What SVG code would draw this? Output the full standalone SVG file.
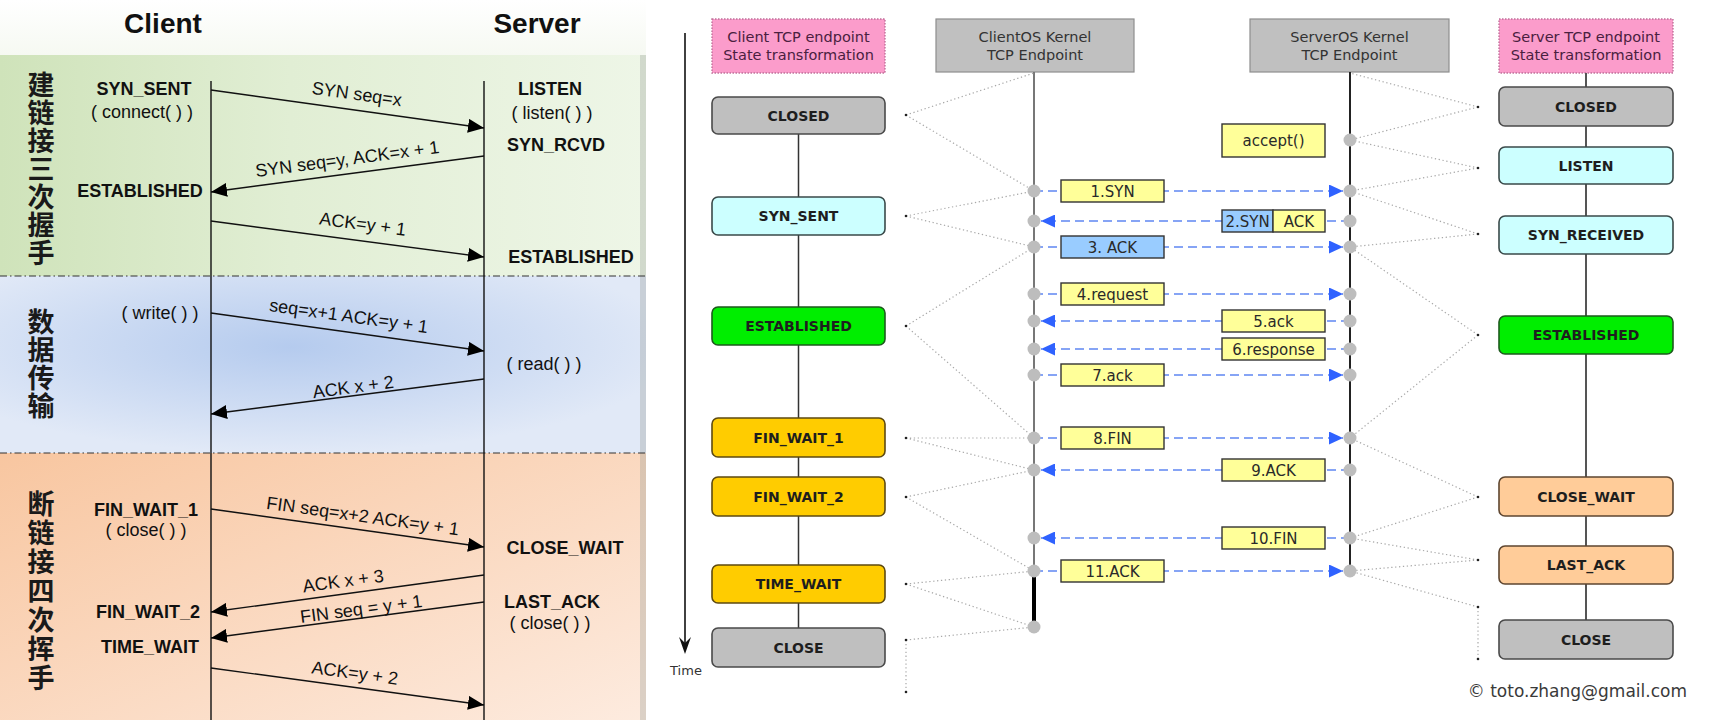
<svg xmlns="http://www.w3.org/2000/svg" width="1711" height="720" viewBox="0 0 1711 720">
  <style>
    .l-title { font-family: "Liberation Sans", Arial, sans-serif; font-size: 28px; font-weight: bold; fill: #111; text-anchor: middle; }
    .l-state { font-family: "Liberation Sans", Arial, sans-serif; font-size: 18px; font-weight: bold; fill: #111; text-anchor: middle; }
    .l-call { font-family: "Liberation Sans", Arial, sans-serif; font-size: 18px; fill: #111; text-anchor: middle; }
    .l-msg { font-family: "Liberation Sans", Arial, sans-serif; font-size: 18px; fill: #111; text-anchor: middle; }
    .l-phase { font-family: "Noto Sans CJK SC", "Noto Sans CJK TC", sans-serif; font-size: 27px; font-weight: bold; fill: #1a1a1a; text-anchor: middle; writing-mode: vertical-rl; }
    .lifeline { stroke: #111; stroke-width: 1.4; }
    .l-arrow { stroke: #111; stroke-width: 1.4; fill: none; marker-end: url(#ah); }
    .sep { stroke: #333; stroke-width: 1.2; stroke-dasharray: 7 3 1.5 3; }

    .r-head { font-family: "DejaVu Sans", Verdana, sans-serif; font-size: 14.5px; text-anchor: middle; }
    .r-state { font-family: "DejaVu Sans", Verdana, sans-serif; font-size: 14px; font-weight: bold; fill: #1e1e1e; text-anchor: middle; }
    .r-lbl { font-family: "DejaVu Sans", Verdana, sans-serif; font-size: 15px; fill: #2a2a2a; text-anchor: middle; }
    .st { stroke-width: 1.6; }
    .s-gray { fill: #bfbfbf; stroke: #4a4a4a; }
    .s-cyan { fill: #ccffff; stroke: #3a4a4a; }
    .s-green { fill: #00ee00; stroke: #1d5a1d; }
    .s-gold { fill: #ffcc00; stroke: #5e4a10; }
    .s-peach { fill: #ffcc99; stroke: #5e4630; }
    .lbox { stroke: #333; stroke-width: 1.4; }
    .y { fill: #ffff99; }
    .b { fill: #99ccff; }
    .msg { stroke: #5f86f2; stroke-width: 1.6; stroke-dasharray: 9 5; fill: none; marker-end: url(#bh); }
    .dot { fill: #bdbdbd; }
    .trace { stroke: #a8a8a8; stroke-width: 1.2; stroke-dasharray: 1.3 2.6; fill: none; }
    .anchor { fill: #222; }
  </style>
  <defs>
    <linearGradient id="gGreen" x1="0" y1="0" x2="1" y2="0">
      <stop offset="0" stop-color="#cfe3ba"/>
      <stop offset="0.45" stop-color="#e1eed4"/>
      <stop offset="1" stop-color="#eef6e7"/>
    </linearGradient>
    <radialGradient id="gBlue" cx="0.45" cy="0.4" r="0.6">
      <stop offset="0" stop-color="#b5cbee"/>
      <stop offset="1" stop-color="#e1e9f7"/>
    </radialGradient>
    <linearGradient id="gOrange" x1="0" y1="0" x2="1" y2="1">
      <stop offset="0" stop-color="#f8c6a0"/>
      <stop offset="1" stop-color="#fdebdf"/>
    </linearGradient>
    <linearGradient id="gTop" x1="0" y1="0" x2="0" y2="1">
      <stop offset="0" stop-color="#ffffff"/>
      <stop offset="1" stop-color="#f6f9f2"/>
    </linearGradient>
    <marker id="ah" markerUnits="userSpaceOnUse" markerWidth="16" markerHeight="14" refX="16" refY="7" orient="auto">
      <path d="M0,0 L16,7 L0,14 z" fill="#000"/>
    </marker>
    <marker id="bh" markerUnits="userSpaceOnUse" markerWidth="14" markerHeight="13" refX="14" refY="6.5" orient="auto">
      <path d="M0,0 L14,6.5 L0,13 z" fill="#2f62ff"/>
    </marker>
  </defs>

  <!-- ===== Left: three phases of a TCP connection ===== -->
  <g id="left-background">
    <rect x="0" y="0" width="646" height="55" fill="url(#gTop)"/>
    <rect x="0" y="55" width="646" height="221" fill="url(#gGreen)"/>
    <rect x="0" y="276" width="646" height="177" fill="url(#gBlue)"/>
    <rect x="0" y="453" width="646" height="267" fill="url(#gOrange)"/>
    <rect x="640" y="55" width="6" height="665" fill="#8f968f" opacity="0.3"/>
    <line class="sep" x1="0" y1="276" x2="646" y2="276"/>
    <line class="sep" x1="0" y1="453" x2="646" y2="453"/>
  </g>

  <g id="phase-labels">
    <text class="l-phase" x="41" y="169" letter-spacing="1">建链接三次握手</text>
    <text class="l-phase" x="41" y="364" letter-spacing="1">数据传输</text>
    <text class="l-phase" x="41" y="592" letter-spacing="2">断链接四次挥手</text>
  </g>

  <g id="client-side">
    <text class="l-title" x="163" y="33">Client</text>
    <line class="lifeline" x1="211" y1="81" x2="211" y2="720"/>
    <text class="l-state" x="144" y="95">SYN_SENT</text>
    <text class="l-call" x="142" y="118">( connect( ) )</text>
    <text class="l-state" x="140" y="197">ESTABLISHED</text>
    <text class="l-call" x="160" y="319">( write( ) )</text>
    <text class="l-state" x="146" y="516">FIN_WAIT_1</text>
    <text class="l-call" x="146" y="536">( close( ) )</text>
    <text class="l-state" x="148" y="618">FIN_WAIT_2</text>
    <text class="l-state" x="150" y="653">TIME_WAIT</text>
  </g>

  <g id="server-side">
    <text class="l-title" x="537" y="33">Server</text>
    <line class="lifeline" x1="484" y1="81" x2="484" y2="720"/>
    <text class="l-state" x="550" y="95">LISTEN</text>
    <text class="l-call" x="552" y="119">( listen( ) )</text>
    <text class="l-state" x="556" y="151">SYN_RCVD</text>
    <text class="l-state" x="571" y="263">ESTABLISHED</text>
    <text class="l-call" x="544" y="370">( read( ) )</text>
    <text class="l-state" x="565" y="554">CLOSE_WAIT</text>
    <text class="l-state" x="552" y="608">LAST_ACK</text>
    <text class="l-call" x="550" y="629">( close( ) )</text>
  </g>

  <g id="segments-left">
    <line class="l-arrow" x1="211" y1="90" x2="484" y2="128"/>
    <line class="l-arrow" x1="484" y1="156" x2="211" y2="192"/>
    <line class="l-arrow" x1="211" y1="221" x2="484" y2="257"/>
    <line class="l-arrow" x1="211" y1="313" x2="484" y2="351"/>
    <line class="l-arrow" x1="484" y1="379" x2="211" y2="414"/>
    <line class="l-arrow" x1="211" y1="509" x2="484" y2="547"/>
    <line class="l-arrow" x1="484" y1="575" x2="211" y2="612"/>
    <line class="l-arrow" x1="484" y1="602" x2="211" y2="638"/>
    <line class="l-arrow" x1="211" y1="668" x2="484" y2="705"/>
    <text class="l-msg" transform="translate(356 100) rotate(7.9)">SYN seq=x</text>
    <text class="l-msg" transform="translate(348 165) rotate(-7.5)">SYN seq=y, ACK=x + 1</text>
    <text class="l-msg" transform="translate(362 230) rotate(7.5)">ACK=y + 1</text>
    <text class="l-msg" transform="translate(348 322) rotate(7.9)">seq=x+1 ACK=y + 1</text>
    <text class="l-msg" transform="translate(354 393) rotate(-7.3)">ACK x + 2</text>
    <text class="l-msg" transform="translate(362 522) rotate(7.9)">FIN seq=x+2 ACK=y + 1</text>
    <text class="l-msg" transform="translate(344 587) rotate(-7.7)">ACK x + 3</text>
    <text class="l-msg" transform="translate(362 615) rotate(-7.5)">FIN seq = y + 1</text>
    <text class="l-msg" transform="translate(354 679) rotate(7.7)">ACK=y + 2</text>
  </g>

  <!-- ===== Right: endpoint state transitions against kernel messages ===== -->
  <rect x="646" y="0" width="1065" height="720" fill="#ffffff"/>

  <g id="time-axis">
    <line x1="685" y1="33" x2="685" y2="646" stroke="#111" stroke-width="1.6"/>
    <path d="M685,654 L679,637 L685,643 L691,637 z" fill="#111"/>
    <text x="686" y="675" font-family="DejaVu Sans, Verdana, sans-serif" font-size="13" fill="#333" text-anchor="middle">Time</text>
  </g>

  <g id="head-client-state">
    <rect x="712" y="19" width="173" height="54" fill="#fb9ccb" stroke="#c0709a" stroke-width="1.4" stroke-dasharray="1.5 1.5"/>
    <text class="r-head" fill="#4a2040" x="798.5" y="42">Client TCP endpoint</text>
    <text class="r-head" fill="#4a2040" x="798.5" y="60">State transformation</text>
  </g>
  <g id="head-client-kernel">
    <rect x="936" y="19" width="198" height="53" fill="#c0c0c0" stroke="#8e8e8e" stroke-width="1.2"/>
    <text class="r-head" fill="#333" x="1035" y="42">ClientOS Kernel</text>
    <text class="r-head" fill="#333" x="1035" y="60">TCP Endpoint</text>
  </g>
  <g id="head-server-kernel">
    <rect x="1250" y="19" width="199" height="53" fill="#c0c0c0" stroke="#8e8e8e" stroke-width="1.2"/>
    <text class="r-head" fill="#333" x="1349.5" y="42">ServerOS Kernel</text>
    <text class="r-head" fill="#333" x="1349.5" y="60">TCP Endpoint</text>
  </g>
  <g id="head-server-state">
    <rect x="1499" y="19" width="174" height="54" fill="#fb9ccb" stroke="#c0709a" stroke-width="1.4" stroke-dasharray="1.5 1.5"/>
    <text class="r-head" fill="#4a2040" x="1586" y="42">Server TCP endpoint</text>
    <text class="r-head" fill="#4a2040" x="1586" y="60">State transformation</text>
  </g>

  <g id="timelines">
    <line x1="798.5" y1="134" x2="798.5" y2="628" stroke="#333" stroke-width="1.5"/>
    <line x1="1586" y1="73" x2="1586" y2="620" stroke="#555" stroke-width="2"/>
    <line x1="1034" y1="72" x2="1034" y2="571" stroke="#777" stroke-width="2"/>
    <line x1="1034" y1="571" x2="1034" y2="627" stroke="#000" stroke-width="4"/>
    <line x1="1350" y1="72" x2="1350" y2="571" stroke="#222" stroke-width="2"/>
  </g>

  <g id="traces">
    <!-- client state anchors -->
    <path class="trace" d="M906,115 L1034,73 M906,115 L1034,191"/>
    <path class="trace" d="M906,216 L1034,191 M906,216 L1034,247"/>
    <path class="trace" d="M906,326 L1034,247 M906,326 L1034,438"/>
    <path class="trace" d="M906,438 L1034,438 M906,438 L1034,470"/>
    <path class="trace" d="M906,497 L1034,470 M906,497 L1034,571"/>
    <path class="trace" d="M906,584 L1034,571 M906,584 L1034,627"/>
    <path class="trace" d="M906,640 L1034,627 M906,640 L906,692"/>
    <!-- server state anchors -->
    <path class="trace" d="M1478,107 L1350,73 M1478,107 L1350,140"/>
    <path class="trace" d="M1478,168 L1350,140 M1478,168 L1350,191"/>
    <path class="trace" d="M1478,234 L1350,191 M1478,234 L1350,247"/>
    <path class="trace" d="M1478,335 L1350,247 M1478,335 L1350,438"/>
    <path class="trace" d="M1478,497 L1350,438 M1478,497 L1350,538"/>
    <path class="trace" d="M1478,560 L1350,538 M1478,560 L1350,571"/>
    <path class="trace" d="M1478,607 L1350,571 M1478,607 L1478,659"/>
    <g class="anchor">
      <circle cx="906" cy="115" r="1.3"/><circle cx="906" cy="216" r="1.3"/><circle cx="906" cy="326" r="1.3"/>
      <circle cx="906" cy="438" r="1.3"/><circle cx="906" cy="497" r="1.3"/><circle cx="906" cy="584" r="1.3"/>
      <circle cx="906" cy="640" r="1.3"/><circle cx="906" cy="692" r="1.3"/>
      <circle cx="1478" cy="107" r="1.3"/><circle cx="1478" cy="168" r="1.3"/><circle cx="1478" cy="234" r="1.3"/>
      <circle cx="1478" cy="335" r="1.3"/><circle cx="1478" cy="497" r="1.3"/><circle cx="1478" cy="560" r="1.3"/>
      <circle cx="1478" cy="607" r="1.3"/><circle cx="1478" cy="659" r="1.3"/>
    </g>
  </g>

  <g id="messages">
    <line class="msg" x1="1034" y1="191" x2="1343" y2="191"/>
    <line class="msg" x1="1350" y1="221" x2="1041" y2="221"/>
    <line class="msg" x1="1034" y1="247" x2="1343" y2="247"/>
    <line class="msg" x1="1034" y1="294" x2="1343" y2="294"/>
    <line class="msg" x1="1350" y1="321" x2="1041" y2="321"/>
    <line class="msg" x1="1350" y1="349" x2="1041" y2="349"/>
    <line class="msg" x1="1034" y1="375" x2="1343" y2="375"/>
    <line class="msg" x1="1034" y1="438" x2="1343" y2="438"/>
    <line class="msg" x1="1350" y1="470" x2="1041" y2="470"/>
    <line class="msg" x1="1350" y1="538" x2="1041" y2="538"/>
    <line class="msg" x1="1034" y1="571" x2="1343" y2="571"/>
  </g>

  <g id="kernel-events" class="dot">
    <circle cx="1034" cy="191" r="6.5"/><circle cx="1034" cy="221" r="6.5"/><circle cx="1034" cy="247" r="6.5"/>
    <circle cx="1034" cy="294" r="6.5"/><circle cx="1034" cy="321" r="6.5"/><circle cx="1034" cy="349" r="6.5"/>
    <circle cx="1034" cy="375" r="6.5"/><circle cx="1034" cy="438" r="6.5"/><circle cx="1034" cy="470" r="6.5"/>
    <circle cx="1034" cy="538" r="6.5"/><circle cx="1034" cy="571" r="6.5"/><circle cx="1034" cy="627" r="6.5"/>
    <circle cx="1350" cy="140" r="6.5"/><circle cx="1350" cy="191" r="6.5"/><circle cx="1350" cy="221" r="6.5"/>
    <circle cx="1350" cy="247" r="6.5"/><circle cx="1350" cy="294" r="6.5"/><circle cx="1350" cy="321" r="6.5"/>
    <circle cx="1350" cy="349" r="6.5"/><circle cx="1350" cy="375" r="6.5"/><circle cx="1350" cy="438" r="6.5"/>
    <circle cx="1350" cy="470" r="6.5"/><circle cx="1350" cy="538" r="6.5"/><circle cx="1350" cy="571" r="6.5"/>
  </g>

  <g id="msg-1-syn"><rect class="lbox y" x="1061" y="180" width="103" height="22"/><text class="r-lbl" x="1112.5" y="196.5">1.SYN</text></g>
  <g id="msg-2-synack">
    <rect class="lbox b" x="1222" y="210" width="51" height="22"/><rect class="lbox y" x="1273" y="210" width="52" height="22"/>
    <text class="r-lbl" x="1247.5" y="226.5">2.SYN</text><text class="r-lbl" x="1299" y="226.5">ACK</text>
  </g>
  <g id="msg-3-ack"><rect class="lbox b" x="1061" y="236" width="103" height="22"/><text class="r-lbl" x="1112.5" y="252.5">3. ACK</text></g>
  <g id="msg-4-request"><rect class="lbox y" x="1061" y="283" width="103" height="22"/><text class="r-lbl" x="1112.5" y="299.5">4.request</text></g>
  <g id="msg-5-ack"><rect class="lbox y" x="1222" y="310" width="103" height="22"/><text class="r-lbl" x="1273.5" y="326.5">5.ack</text></g>
  <g id="msg-6-response"><rect class="lbox y" x="1222" y="338" width="103" height="22"/><text class="r-lbl" x="1273.5" y="354.5">6.response</text></g>
  <g id="msg-7-ack"><rect class="lbox y" x="1061" y="364" width="103" height="22"/><text class="r-lbl" x="1112.5" y="380.5">7.ack</text></g>
  <g id="msg-8-fin"><rect class="lbox y" x="1061" y="427" width="103" height="22"/><text class="r-lbl" x="1112.5" y="443.5">8.FIN</text></g>
  <g id="msg-9-ack"><rect class="lbox y" x="1222" y="459" width="103" height="22"/><text class="r-lbl" x="1273.5" y="475.5">9.ACK</text></g>
  <g id="msg-10-fin"><rect class="lbox y" x="1222" y="527" width="103" height="22"/><text class="r-lbl" x="1273.5" y="543.5">10.FIN</text></g>
  <g id="msg-11-ack"><rect class="lbox y" x="1061" y="560" width="103" height="22"/><text class="r-lbl" x="1112.5" y="576.5">11.ACK</text></g>
  <g id="call-accept"><rect class="lbox y" x="1222" y="124" width="103" height="33"/><text class="r-lbl" x="1273.5" y="145.5">accept()</text></g>

  <g id="client-states">
    <g id="c-closed"><rect class="st s-gray" x="712" y="97" width="173" height="37" rx="6"/><text class="r-state" x="798.5" y="120.5">CLOSED</text></g>
    <g id="c-syn-sent"><rect class="st s-cyan" x="712" y="197" width="173" height="38" rx="6"/><text class="r-state" x="798.5" y="221">SYN_SENT</text></g>
    <g id="c-established"><rect class="st s-green" x="712" y="307" width="173" height="38" rx="6"/><text class="r-state" x="798.5" y="331">ESTABLISHED</text></g>
    <g id="c-fin-wait-1"><rect class="st s-gold" x="712" y="418" width="173" height="39" rx="6"/><text class="r-state" x="798.5" y="442.5">FIN_WAIT_1</text></g>
    <g id="c-fin-wait-2"><rect class="st s-gold" x="712" y="477" width="173" height="39" rx="6"/><text class="r-state" x="798.5" y="501.5">FIN_WAIT_2</text></g>
    <g id="c-time-wait"><rect class="st s-gold" x="712" y="565" width="173" height="38" rx="6"/><text class="r-state" x="798.5" y="589">TIME_WAIT</text></g>
    <g id="c-close"><rect class="st s-gray" x="712" y="628" width="173" height="39" rx="6"/><text class="r-state" x="798.5" y="652.5">CLOSE</text></g>
  </g>

  <g id="server-states">
    <g id="s-closed"><rect class="st s-gray" x="1499" y="87" width="174" height="39" rx="6"/><text class="r-state" x="1586" y="111.5">CLOSED</text></g>
    <g id="s-listen"><rect class="st s-cyan" x="1499" y="147" width="174" height="37" rx="6"/><text class="r-state" x="1586" y="170.5">LISTEN</text></g>
    <g id="s-syn-received"><rect class="st s-cyan" x="1499" y="216" width="174" height="38" rx="6"/><text class="r-state" x="1586" y="240">SYN_RECEIVED</text></g>
    <g id="s-established"><rect class="st s-green" x="1499" y="316" width="174" height="38" rx="6"/><text class="r-state" x="1586" y="340">ESTABLISHED</text></g>
    <g id="s-close-wait"><rect class="st s-peach" x="1499" y="477" width="174" height="39" rx="6"/><text class="r-state" x="1586" y="501.5">CLOSE_WAIT</text></g>
    <g id="s-last-ack"><rect class="st s-peach" x="1499" y="546" width="174" height="38" rx="6"/><text class="r-state" x="1586" y="570">LAST_ACK</text></g>
    <g id="s-close"><rect class="st s-gray" x="1499" y="620" width="174" height="39" rx="6"/><text class="r-state" x="1586" y="644.5">CLOSE</text></g>
  </g>

  <text x="1687" y="697" font-family="DejaVu Sans, Verdana, sans-serif" font-size="17" fill="#3a3a3a" text-anchor="end">© toto.zhang@gmail.com</text>
</svg>
